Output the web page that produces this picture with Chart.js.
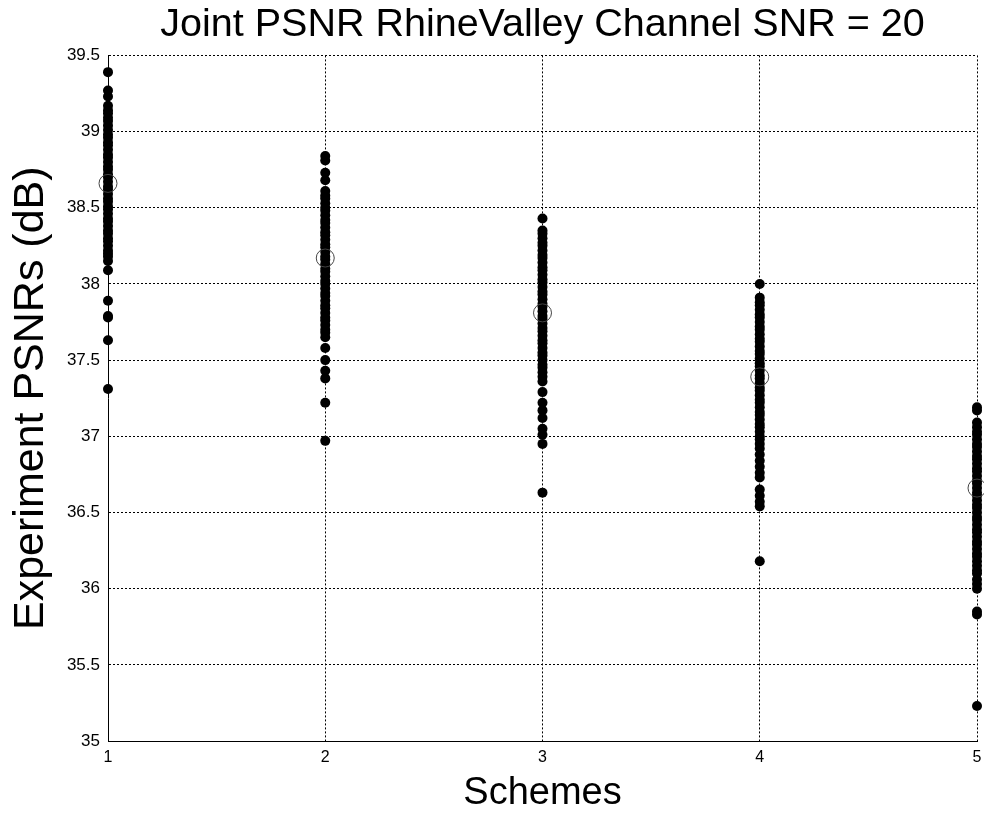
<!DOCTYPE html>
<html>
<head>
<meta charset="utf-8">
<script src="https://cdn.jsdelivr.net/npm/chart.js@4"></script>
<style>
  html, body { margin: 0; padding: 0; background: #fff; }
  #wrap { width: 984px; height: 813px; }
</style>
</head>
<body>
<div id="wrap"><canvas id="psnrChart" width="984" height="813"></canvas></div>
<script>
// Joint PSNR scatter, one column of experiment results per scheme

const schemes = [1, 2, 3, 4, 5];
const yTicks = [35, 35.5, 36, 36.5, 37, 37.5, 38, 38.5, 39, 39.5];

const scheme1 = [39.39, 39.27, 39.23, 39.17, 39.14, 39.12, 39.09, 39.07, 39.04, 39.01, 38.98, 38.96, 38.93,
  38.91, 38.88, 38.85, 38.83, 38.80, 38.77, 38.75, 38.72, 38.70, 38.67, 38.64, 38.62, 38.59, 38.56, 38.54,
  38.51, 38.49, 38.46, 38.43, 38.41, 38.38, 38.35, 38.33, 38.30, 38.28, 38.25, 38.22, 38.20, 38.18, 38.15,
  38.09, 37.89, 37.79, 37.78, 37.63, 37.31];
const scheme2 = [38.84, 38.81, 38.73, 38.68, 38.61, 38.58, 38.56, 38.53, 38.50, 38.48, 38.45, 38.42, 38.40,
  38.37, 38.34, 38.32, 38.29, 38.26, 38.24, 38.21, 38.18, 38.16, 38.13, 38.10, 38.08, 38.05, 38.02, 38.00,
  37.97, 37.94, 37.92, 37.89, 37.86, 37.84, 37.81, 37.78, 37.76, 37.73, 37.70, 37.68, 37.65, 37.58, 37.50,
  37.43, 37.38, 37.22, 36.97];
const scheme3 = [38.43, 38.35, 38.33, 38.30, 38.27, 38.25, 38.22, 38.19, 38.17, 38.14, 38.11, 38.09, 38.06,
  38.03, 38.01, 37.98, 37.95, 37.93, 37.90, 37.87, 37.85, 37.82, 37.79, 37.77, 37.74, 37.71, 37.69, 37.66,
  37.63, 37.61, 37.58, 37.55, 37.53, 37.50, 37.47, 37.45, 37.42, 37.39, 37.36, 37.29, 37.22, 37.17, 37.12,
  37.05, 37.01, 36.95, 36.63];
const scheme4 = [38.00, 37.91, 37.88, 37.86, 37.83, 37.80, 37.78, 37.75, 37.72, 37.70, 37.67, 37.64, 37.62,
  37.59, 37.56, 37.54, 37.51, 37.48, 37.46, 37.43, 37.40, 37.38, 37.35, 37.32, 37.30, 37.27, 37.24, 37.22,
  37.19, 37.16, 37.14, 37.11, 37.08, 37.06, 37.03, 37.00, 36.98, 36.95, 36.92, 36.88, 36.84, 36.80, 36.76,
  36.73, 36.65, 36.61, 36.57, 36.54, 36.18];
const scheme5 = [37.19, 37.17, 37.09, 37.06, 37.03, 37.01, 36.98, 36.95, 36.93, 36.90, 36.87, 36.85, 36.82,
  36.79, 36.77, 36.74, 36.71, 36.69, 36.66, 36.63, 36.61, 36.58, 36.55, 36.53, 36.50, 36.47, 36.45, 36.42,
  36.39, 36.37, 36.34, 36.31, 36.29, 36.26, 36.23, 36.21, 36.18, 36.15, 36.12, 36.10, 36.06, 36.03, 36.00,
  35.85, 35.83, 35.23];
const means = [38.66, 38.17, 37.81, 37.39, 36.66];

const columns = [scheme1, scheme2, scheme3, scheme4, scheme5];
const points = [];
columns.forEach((col, i) => col.forEach(v => points.push({ x: schemes[i], y: v })));
const meanPoints = means.map((v, i) => ({ x: schemes[i], y: v }));

Chart.defaults.font.family = "'Liberation Sans', Arial, sans-serif";
Chart.defaults.color = '#000';

new Chart(document.getElementById('psnrChart'), {
  type: 'scatter',
  data: {
    datasets: [
      {
        label: 'Experiments',
        data: points,
        pointRadius: 5, pointBorderWidth: 0,
        backgroundColor: '#000', borderColor: '#000',
        clip: false,
        order: 2
      },
      {
        label: 'Mean',
        data: meanPoints,
        pointRadius: 9, pointBorderWidth: 1,
        backgroundColor: 'rgba(0,0,0,0)', borderColor: '#444',
        clip: false,
        order: 1
      }
    ]
  },
  options: {
    responsive: false,
    animation: false,
    events: [],
    layout: { autoPadding: false, padding: { left: 0, right: 7, top: 0, bottom: 0 } },
    plugins: {
      legend: { display: false },
      tooltip: { enabled: false },
      title: {
        display: true,
        text: 'Joint PSNR RhineValley Channel SNR = 20',
        fullSize: false,
        color: '#000',
        font: { size: 39.5, weight: 'normal' },
        padding: { top: 1, bottom: 7 }
      }
    },
    scales: {
      x: {
        type: 'linear', min: 1, max: 5,
        afterBuildTicks: s => { s.ticks = schemes.map(v => ({ value: v })); },
        afterFit: s => { s.height = 72; s.paddingRight = 0; s.paddingLeft = 0; },
        ticks: { font: { size: 16 }, padding: 0, maxRotation: 0 },
        grid: { color: '#000', lineWidth: 1, drawTicks: true, tickLength: 7, tickColor: 'rgba(0,0,0,0)' },
        border: { display: true, color: '#000', width: 1, dash: [2, 2] },
        title: { display: true, text: 'Schemes', font: { size: 38, lineHeight: 1.0 }, padding: { top: 0, bottom: 0 } }
      },
      y: {
        min: 35, max: 39.5,
        afterBuildTicks: s => { s.ticks = yTicks.map(v => ({ value: v })); },
        afterFit: s => { s.width = 108; },
        ticks: { font: { size: 17 }, padding: 8, callback: v => String(v) },
        grid: { color: '#000', lineWidth: 1, drawTicks: false },
        border: { display: true, color: '#000', width: 1, dash: [2, 2] },
        title: { display: true, text: 'Experiment PSNRs (dB)', font: { size: 43 }, padding: { top: 5, bottom: 0 } }
      }
    }
  }
});
</script>
</body>
</html>
